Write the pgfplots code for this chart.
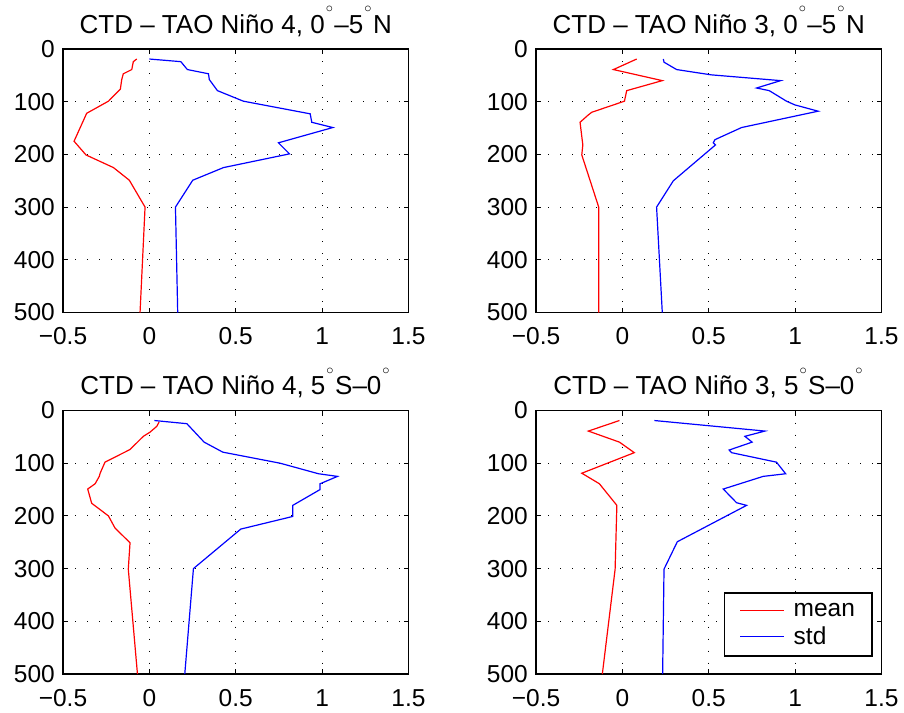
\documentclass[border=0pt]{standalone}
\usepackage{fontspec}
\setmainfont{Liberation Sans}
\usepackage{pgfplots}
\pgfplotsset{compat=1.18}

\newcommand{\figfont}{\fontsize{24.5}{28}\selectfont}
\newcommand{\titlefont}{\fontsize{26}{30}\selectfont}
% raised degree ring as in the panel titles
\newcommand{\dg}{\kern1pt\smash{\raisebox{0.78em}{\fontsize{15}{15}\selectfont$\circ$}}\kern1.5pt}

\pgfplotsset{
  ctd/.style={
    width=345.5pt, height=263.5pt, scale only axis,
    xmin=-0.5, xmax=1.5, ymin=0, ymax=500, y dir=reverse,
    xtick={-0.5,0,0.5,1,1.5},
    xticklabels={−0.5,0,0.5,1,1.5},
    ytick={0,100,200,300,400,500},
    yticklabels={0,100,200,300,400,500},
    grid=major,
    major grid style={black, line width=1pt, dash pattern=on 1.2pt off 10.8pt},
    tick align=inside,
    major tick length=5pt,
    every tick/.style={black, line width=1pt},
    axis line style={black, line width=1.5pt},
    tick label style={font=\figfont},
    yticklabel style={anchor=east, inner sep=0pt, xshift=-8pt},
    xticklabel style={anchor=north, inner sep=0pt, yshift=-15pt},
    title style={font=\titlefont, at={(0.5,1)}, anchor=base, yshift=10pt, inner sep=0pt},
    legend style={font=\figfont, draw=black, line width=1.4pt,
      at={(0.9745,0.0658)}, anchor=south east,
      inner xsep=15pt, inner ysep=8pt, row sep=5pt},
    legend cell align=left,
    legend image code/.code={%
      \draw[#1, line width=1.2pt] (0pt,0pt) -- (44pt,0pt);
      \path (51pt,0pt);},
  },
  meanline/.style={red, line width=1.2pt},
  stdline/.style={blue, line width=1.2pt},
}

\begin{document}
\begin{tikzpicture}
\path[use as bounding box] (0pt,0pt) rectangle (904pt,-712pt);

% Nino 4, 0-5N
\begin{axis}[ctd, at={(63pt,-312.5pt)}, anchor=south west,
  title={CTD – TAO Niño 4, 0\dg–5\dg N}]
\addplot[meanline] coordinates {
(-0.073,19) (-0.093,24) (-0.102,39) (-0.151,47) (-0.160,58) (-0.168,76)
(-0.237,99) (-0.363,122) (-0.436,175) (-0.367,201) (-0.208,225)
(-0.116,249) (-0.025,300) (-0.054,500)};
\addplot[stdline] coordinates {
(0,19) (0.182,24) (0.220,39) (0.342,47) (0.347,58) (0.394,79) (0.544,99)
(0.931,123) (0.940,139) (1.062,149) (0.747,178) (0.811,199) (0.429,225)
(0.251,249) (0.151,300) (0.164,500)};
\end{axis}

% Nino 3, 0-5N
\begin{axis}[ctd, at={(536pt,-312.5pt)}, anchor=south west,
  title={CTD – TAO Niño 3, 0\dg–5\dg N}]
\addplot[meanline] coordinates {
(0.083,19) (-0.052,39) (0.231,60) (0.025,79) (0.012,99) (-0.177,120)
(-0.197,125) (-0.245,139) (-0.229,182) (-0.235,201) (-0.137,300)
(-0.137,500)};
\addplot[stdline] coordinates {
(0.237,19) (0.241,25) (0.314,39) (0.513,49) (0.916,60) (0.777,74)
(0.850,79) (0.950,99) (0.998,106) (1.133,118) (0.690,149) (0.536,172)
(0.526,178) (0.539,182) (0.295,250) (0.198,300) (0.231,500)};
\end{axis}

% Nino 4, 5S-0
\begin{axis}[ctd, at={(63pt,-674pt)}, anchor=south west,
  title={CTD – TAO Niño 4, 5\dg S–0\dg}]
\addplot[meanline] coordinates {
(0.056,22) (0.043,30) (0.004,41) (-0.035,49) (-0.112,74) (-0.257,98)
(-0.285,119) (-0.290,125) (-0.314,139) (-0.357,149) (-0.334,176)
(-0.237,200) (-0.199,223) (-0.112,251) (-0.122,301) (-0.069,500)};
\addplot[stdline] coordinates {
(0.029,19) (0.217,25) (0.317,60) (0.425,79) (0.757,100) (0.979,120)
(1.089,125) (0.988,139) (0.988,150) (0.830,180) (0.830,201) (0.529,225)
(0.255,300) (0.205,500)};
\end{axis}

% Nino 3, 5S-0
\begin{axis}[ctd, at={(536pt,-674pt)}, anchor=south west,
  title={CTD – TAO Niño 3, 5\dg S–0\dg}]
\addplot[meanline] coordinates {
(-0.017,19) (-0.197,39) (-0.017,60) (0.069,80) (-0.235,119) (-0.133,139)
(-0.032,180) (-0.042,301) (-0.116,500)};
\addlegendentry{mean}
\addplot[stdline] coordinates {
(0.185,19) (0.825,39) (0.709,49) (0.751,60) (0.618,75) (0.632,80)
(0.892,98) (0.945,120) (0.815,125) (0.584,149) (0.661,175) (0.719,180)
(0.318,249) (0.241,301) (0.233,500)};
\addlegendentry{std}
\end{axis}
\end{tikzpicture}
\end{document}
